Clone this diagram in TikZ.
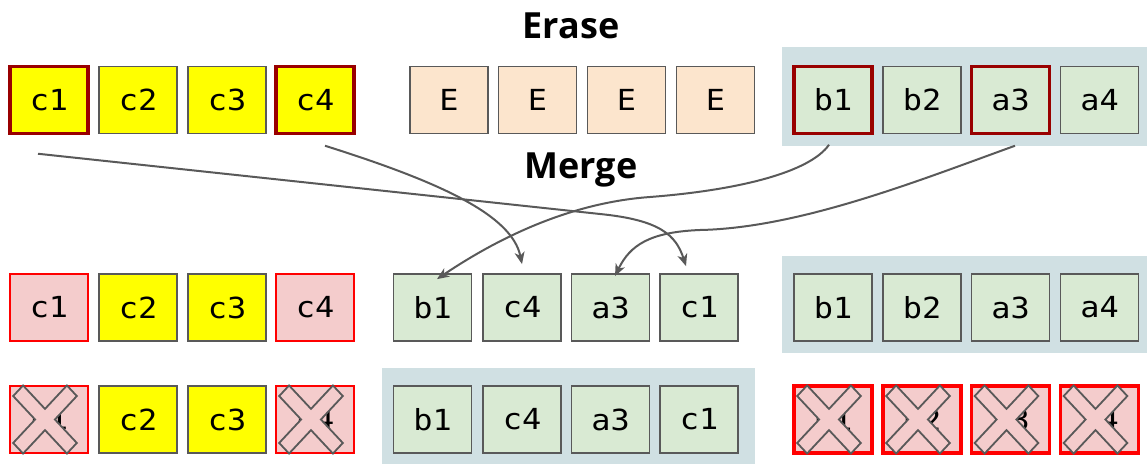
\documentclass[tikz,border=0pt]{standalone}
\usepackage{fontspec}
\newfontfamily\labelfont{DejaVu Sans Mono}[FakeStretch=1.1]
\newfontfamily\titlefont{Open Sans}
\usetikzlibrary{arrows.meta}
\definecolor{bordergray}{HTML}{595959}
\definecolor{cyellow}{HTML}{FFFF00}
\definecolor{darkred}{HTML}{990000}
\definecolor{epeach}{HTML}{FCE5CD}
\definecolor{cgreen}{HTML}{D9EAD3}
\definecolor{bgblue}{HTML}{D0E0E3}
\definecolor{cpink}{HTML}{F4CCCC}
\definecolor{cred}{HTML}{FF0000}
\tikzset{
  cell/.style={draw=bordergray, line width=1.8pt, minimum width=78pt, minimum height=67pt,
    inner sep=0pt, font=\labelfont\fontsize{29pt}{30pt}\selectfont},
  ycell/.style={cell, fill=cyellow},
  hcell/.style={draw=darkred, line width=3.5pt},
  ecell/.style={cell, fill=epeach},
  gcell/.style={cell, fill=cgreen},
  pcell/.style={cell, fill=cpink, draw=cred},
  thickred/.style={line width=3.5pt},
  bgrect/.style={fill=bgblue, inner sep=0pt},
  title/.style={anchor=base, font=\titlefont\bfseries\fontsize{36pt}{40pt}\selectfont},
  conn/.style={draw=bordergray, line width=2pt, -{Stealth[length=12pt,width=10pt,inset=3.5pt]}},
  xmark/.pic={\draw[fill=cpink, draw=bordergray, line width=1.8pt, yscale=1.07, rotate=45]
    (7,38) -- (-7,38) -- (-7,7) -- (-38,7) -- (-38,-7) -- (-7,-7) -- (-7,-38) -- (7,-38)
    -- (7,-7) -- (38,-7) -- (38,7) -- (7,7) -- cycle;}
}
\begin{document}
\begin{tikzpicture}[x=1pt, y=-1pt]
\useasboundingbox (0,0) rectangle (1147,463);
% backgrounds
\node[bgrect, minimum width=365pt, minimum height=99pt] (bg1) at (964.5,96.5) {};
\node[bgrect, minimum width=365pt, minimum height=97pt] (bg2) at (964.5,304.5) {};
\node[bgrect, minimum width=373pt, minimum height=96pt] (bg3) at (568.5,416) {};
% titles
\node[title] (terase) at (571,38) {Erase};
\node[title] (tmerge) at (581,178) {Merge};
% row 1
\node[ycell, hcell] (ta1) at (49,100) {c1};
\node[ycell] (ta2) at (138,100) {c2};
\node[ycell] (ta3) at (227,100) {c3};
\node[ycell, hcell] (ta4) at (315,100) {c4};
\node[ecell] (te1) at (449,100) {E};
\node[ecell] (te2) at (537.5,100) {E};
\node[ecell] (te3) at (626.5,100) {E};
\node[ecell] (te4) at (715.5,100) {E};
\node[gcell, hcell] (tb1) at (833,100) {b1};
\node[gcell] (tb2) at (922,100) {b2};
\node[gcell, hcell] (tb3) at (1010.5,100) {a3};
\node[gcell] (tb4) at (1099.5,100) {a4};
% row 2
\node[pcell] (ma1) at (49,307.5) {c1};
\node[ycell] (ma2) at (138,307.5) {c2};
\node[ycell] (ma3) at (227,307.5) {c3};
\node[pcell] (ma4) at (315,307.5) {c4};
\node[gcell] (mm1) at (432.5,307.5) {b1};
\node[gcell] (mm2) at (522,307.5) {c4};
\node[gcell] (mm3) at (610.5,307.5) {a3};
\node[gcell] (mm4) at (699,307.5) {c1};
\node[gcell] (mb1) at (833,307.5) {b1};
\node[gcell] (mb2) at (922,307.5) {b2};
\node[gcell] (mb3) at (1010.5,307.5) {a3};
\node[gcell] (mb4) at (1099.5,307.5) {a4};
% row 3
\node[pcell] (ba1) at (49,419.5) {c1};
\node[ycell] (ba2) at (138,419.5) {c2};
\node[ycell] (ba3) at (227,419.5) {c3};
\node[pcell] (ba4) at (315,419.5) {c4};
\node[gcell] (bm1) at (432.5,419.5) {b1};
\node[gcell] (bm2) at (522,419.5) {c4};
\node[gcell] (bm3) at (610.5,419.5) {a3};
\node[gcell] (bm4) at (699,419.5) {c1};
\node[pcell, thickred] (bb1) at (833,419.5) {b1};
\node[pcell, thickred] (bb2) at (922,419.5) {b2};
\node[pcell, thickred] (bb3) at (1010.5,419.5) {a3};
\node[pcell, thickred] (bb4) at (1099.5,419.5) {a4};
% crosses
\pic at ([xshift=-4pt]ba1.center) {xmark};
\pic at ([xshift=-4pt]ba4.center) {xmark};
\pic at ([xshift=-4pt]bb1.center) {xmark};
\pic at ([xshift=-4pt]bb2.center) {xmark};
\pic at ([xshift=-4pt]bb3.center) {xmark};
\pic at ([xshift=-4pt]bb4.center) {xmark};
% arrow end points
\coordinate (s1) at ([shift={(-11,18.5)}]ta1.south);
\coordinate (s2) at ([shift={(10,10.5)}]ta4.south);
\coordinate (s3) at ([shift={(-4,9.5)}]tb1.south);
\coordinate (s4) at ([shift={(4.5,10.5)}]tb3.south);
\coordinate (e1) at ([shift={(-13,-7)}]mm4.north);
\coordinate (e2) at ([shift={(0,-9)}]mm2.north);
\coordinate (e3) at ([shift={(4.5,6)}]mm1.north);
\coordinate (e4) at ([shift={(4.5,3)}]mm3.north);
% arrows
\draw[conn] (s1) -- (600,214) .. controls (660,220) and (676,235) .. (e1);
\draw[conn] (s2) .. controls (440,182) and (512,215) .. (e2);
\draw[conn] (s3) .. controls (810,172) and (740,190) .. (650,197)
  .. controls (580,202) and (510,230) .. (e3);
\draw[conn] (s4) .. controls (920,180) and (800,228) .. (700,230)
  .. controls (650,232) and (630,245) .. (e4);
\end{tikzpicture}
\end{document}
